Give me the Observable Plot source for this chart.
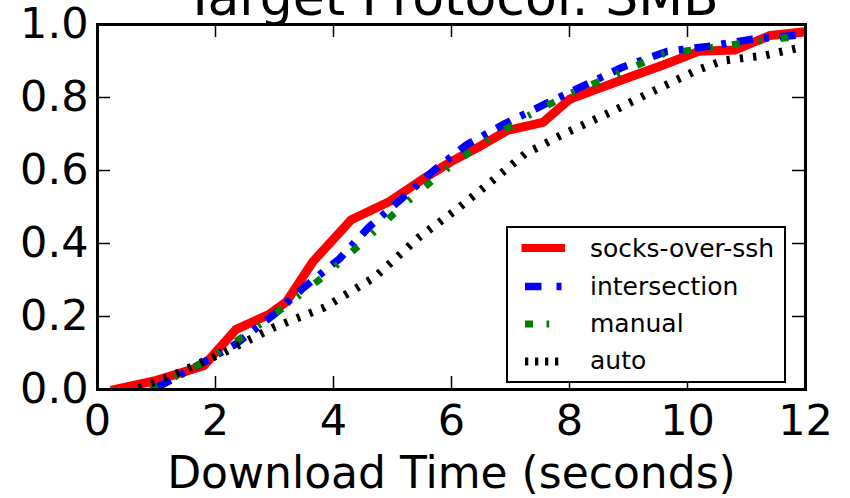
<!DOCTYPE html>
<html><head><meta charset="utf-8">
<script src="https://cdn.jsdelivr.net/npm/d3@7"></script>
<script src="https://cdn.jsdelivr.net/npm/@observablehq/plot@0.6"></script>
<style>body{margin:0;background:#fff}#chart{width:850px;height:498px}</style>
</head><body><div id="chart"></div>
<script>
const title = "Target Protocol: SMB";
const xLabel = "Download Time (seconds)";
const xTicks = [0, 2, 4, 6, 8, 10, 12];
const yTicks = [0, 0.2, 0.4, 0.6, 0.8, 1.0];
const seriesNames = ["socks-over-ssh", "intersection", "manual", "auto"];

const socksX = [0.3, 1.0, 1.8, 2.35, 2.9, 3.2, 3.65, 4.3, 4.95, 5.5, 6.0, 6.5, 6.95, 7.55, 8.0, 8.5, 9.0, 9.6, 10.2, 10.8, 11.4, 12.0];
const socksY = [0.0, 0.025, 0.065, 0.165, 0.205, 0.24, 0.35, 0.465, 0.515, 0.575, 0.625, 0.668, 0.71, 0.732, 0.795, 0.825, 0.855, 0.89, 0.927, 0.93, 0.97, 0.98];

const interX = [1.0, 1.7, 2.35, 3.0, 3.5, 4.1, 4.6, 5.15, 5.7, 6.25, 6.9, 7.6, 8.25, 8.9, 9.65, 10.35, 11.1, 11.8, 12.0];
const interY = [0.005, 0.066, 0.125, 0.207, 0.28, 0.358, 0.445, 0.522, 0.6, 0.67, 0.728, 0.783, 0.833, 0.883, 0.926, 0.94, 0.96, 0.97, 0.975];

const manualX = [0.9, 1.8, 2.5, 3.2, 3.85, 4.5, 5.15, 5.8, 6.5, 7.25, 8.0, 8.8, 9.6, 10.45, 11.3, 11.9, 12.0];
const manualY = [0.0, 0.075, 0.148, 0.23, 0.312, 0.404, 0.5, 0.59, 0.673, 0.746, 0.81, 0.864, 0.92, 0.938, 0.956, 0.968, 0.97];

const autoX = [0.7, 1.2, 2.15, 3.0, 3.85, 4.7, 5.45, 6.1, 6.6, 7.25, 7.9, 8.75, 9.5, 10.15, 10.6, 11.3, 12.0];
const autoY = [0.005, 0.034, 0.102, 0.171, 0.225, 0.308, 0.417, 0.495, 0.56, 0.646, 0.70, 0.764, 0.824, 0.874, 0.901, 0.915, 0.94];

const seriesXs = [socksX, interX, manualX, autoX];
const seriesYs = [socksY, interY, manualY, autoY];

const styles = [
  {stroke: "#ff0000", strokeWidth: 9, strokeDasharray: null, strokeLinecap: "square", legendDash: null},
  {stroke: "#0000ff", strokeWidth: 7.5, strokeDasharray: "16 11 5 11", strokeLinecap: "butt", legendDash: "16.5 15 5 15"},
  {stroke: "#008000", strokeWidth: 7, strokeDasharray: "8 19 3 19", strokeLinecap: "butt", legendDash: "8 13.5 2.7 20"},
  {stroke: "#000000", strokeWidth: 8, strokeDasharray: "3.3 10", strokeLinecap: "butt", legendDash: "3.3 6.7"}
];

const W = 850, H = 498, mL = 97, mR = 45, mT = 24, mB = 109;
const plotW = W - mL - mR, plotH = H - mT - mB;
const tickLen = 13;

const lineMarks = seriesNames.map((name, i) => {
  const rows = seriesXs[i].map((x, j) => ({x, y: seriesYs[i][j], series: name}));
  const {legendDash, ...st} = styles[i];
  return Plot.line(rows, {x: "x", y: "y", ...st, strokeLinejoin: "round", clip: true});
});

const chart = Plot.plot({
  width: W, height: H,
  marginLeft: mL, marginRight: mR, marginTop: mT, marginBottom: mB,
  style: {fontFamily: "DejaVu Sans", background: "white", overflow: "visible", color: "black"},
  x: {domain: [0, 12]},
  y: {domain: [0, 1]},
  marks: [
    ...lineMarks,
    Plot.tickX(xTicks, {x: d => d, insetTop: plotH - tickLen, stroke: "black", strokeWidth: 1.5}),
    Plot.tickX(xTicks, {x: d => d, insetBottom: plotH - tickLen, stroke: "black", strokeWidth: 1.5}),
    Plot.tickY(yTicks, {y: d => d, insetRight: plotW - tickLen, stroke: "black", strokeWidth: 1.5}),
    Plot.tickY(yTicks, {y: d => d, insetLeft: plotW - tickLen, stroke: "black", strokeWidth: 1.5}),
    Plot.frame({stroke: "black", strokeWidth: 3}),
    Plot.axisX(xTicks, {tickSize: 0, tickPadding: 15, fontSize: 43, label: null, tickFormat: d => String(d)}),
    Plot.axisY(yTicks, {tickSize: 0, tickPadding: 9, fontSize: 43, label: null, tickFormat: d3.format(".1f")}),
    Plot.text([xLabel], {text: d => d, frameAnchor: "bottom", dy: 98, lineAnchor: "bottom", fontSize: 44}),
    Plot.text([title], {text: d => d, frameAnchor: "top", dy: -10, lineAnchor: "bottom", fontSize: 52})
  ]
});

// Legend
const lg = d3.select(chart).append("g").attr("font-family", "DejaVu Sans");
lg.append("rect").attr("x", 507).attr("y", 227).attr("width", 278).attr("height", 155)
  .attr("fill", "white").attr("stroke", "black").attr("stroke-width", 2);
const sampleY = [248, 286.5, 324, 361.5];
const textBase = [256.5, 295, 331.5, 368.5];
seriesNames.forEach((name, i) => {
  const s = styles[i];
  lg.append("line").attr("x1", i === 0 ? 521.5 : 525).attr("x2", 565)
    .attr("y1", sampleY[i]).attr("y2", sampleY[i])
    .attr("stroke", s.stroke).attr("stroke-width", i === 0 ? 8 : s.strokeWidth)
    .attr("stroke-dasharray", s.legendDash).attr("stroke-linecap", "butt");
  lg.append("text").attr("x", 590).attr("y", textBase[i]).attr("text-anchor", "start")
    .attr("font-size", 25).attr("fill", "black").text(name);
});

document.getElementById("chart").appendChild(chart);
</script>
</body></html>
